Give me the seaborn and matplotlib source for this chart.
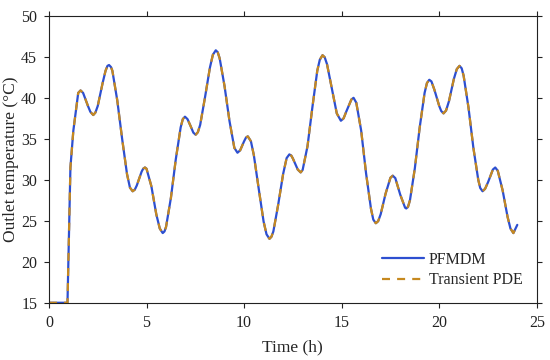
import matplotlib
matplotlib.use("Agg")
import matplotlib.pyplot as plt
import seaborn as sns
import pandas as pd

# outlet temperature, both models overlap
time_h = [0, 0.25, 0.5, 0.75, 0.95, 1.0, 1.1, 1.25, 1.5, 1.62, 1.75, 2.0, 2.12,
          2.27, 2.38, 2.5, 2.75, 2.9, 3.0, 3.08, 3.18, 3.25, 3.5, 3.75, 4.0,
          4.15, 4.29, 4.4, 4.5, 4.75, 4.83, 4.92, 5.0, 5.25, 5.5, 5.68, 5.83,
          5.92, 6.0, 6.25, 6.5, 6.75, 6.86, 6.97, 7.1, 7.25, 7.4, 7.52, 7.63,
          7.75, 8.0, 8.25, 8.4, 8.55, 8.65, 8.75, 9.0, 9.25, 9.5, 9.66, 9.8,
          10.0, 10.1, 10.19, 10.35, 10.5, 10.75, 11.0, 11.15, 11.3, 11.4, 11.5,
          11.75, 12.0, 12.18, 12.32, 12.42, 12.5, 12.75, 12.9, 13.0, 13.25,
          13.5, 13.75, 13.88, 14.02, 14.13, 14.25, 14.5, 14.75, 14.96, 15.1,
          15.25, 15.5, 15.61, 15.75, 16.0, 16.25, 16.5, 16.62, 16.75, 16.87,
          17.0, 17.25, 17.5, 17.62, 17.75, 18.0, 18.25, 18.31, 18.4, 18.5,
          18.75, 19.0, 19.25, 19.37, 19.49, 19.6, 19.75, 20.0, 20.1, 20.22,
          20.35, 20.5, 20.75, 20.9, 21.04, 21.15, 21.25, 21.5, 21.75, 22.0,
          22.1, 22.22, 22.35, 22.5, 22.75, 22.87, 23.0, 23.25, 23.5, 23.65,
          23.8, 24.0]
temp_c = [15, 15, 15, 15, 15, 20.5, 31.5, 36.0, 40.6, 40.9, 40.6, 39.0, 38.3,
          37.9, 38.2, 39.0, 41.8, 43.3, 43.9, 44.0, 43.75, 43.3, 39.7, 35.0, 30.7,
          29.05, 28.6, 28.8, 29.3, 31.0, 31.35, 31.5, 31.35, 29.2, 25.8, 24.05, 23.5,
          23.7, 24.25, 27.8, 32.5, 36.4, 37.4, 37.7, 37.4, 36.6, 35.75, 35.5, 35.8,
          36.7, 40.1, 43.7, 45.25, 45.8, 45.55, 44.8, 41.4, 37.2, 33.9, 33.3, 33.6,
          34.7, 35.16, 35.3, 34.7, 33.0, 28.9, 24.9, 23.35, 22.8, 23.05, 23.7,
          27.0, 30.7, 32.65, 33.1, 32.95, 32.6, 31.25, 30.9, 31.2, 34.1,
          38.85, 43.3, 44.65, 45.2, 44.95, 44.1, 41.1, 38.1, 37.2, 37.5,
          38.4, 39.8, 40.0, 39.4, 36.0, 30.8, 26.5, 25.15, 24.7, 24.95,
          25.8, 28.3, 30.25, 30.5, 30.2, 28.2, 26.6, 26.5, 26.7, 27.5,
          31.4, 36.4, 40.6, 41.8, 42.2, 42.0, 41.0, 39.0, 38.4, 38.1,
          38.45, 39.6, 42.3, 43.5, 43.9, 43.6, 42.7, 38.8, 33.9, 30.0,
          29.0, 28.6, 28.9, 29.7, 31.25, 31.5, 31.1, 28.7, 25.5, 24.05,
          23.5, 24.5]

df = pd.DataFrame({"Time": time_h, "Temp": temp_c})

sns.set_style("white")
plt.rcParams["font.family"] = ["Liberation Serif", "DejaVu Serif"]

fig = plt.figure(figsize=(5.5, 3.6), dpi=100)
ax = fig.add_axes([0.089, 0.159, 0.887, 0.797])

sns.lineplot(data=df, x="Time", y="Temp", ax=ax, color="#2d4fd0",
             linewidth=1.6, label="PFMDM")
sns.lineplot(data=df, x="Time", y="Temp", ax=ax, color="#c6891f",
             linewidth=1.6, linestyle=(0, (3.6, 3.2)), label="Transient PDE")

ax.set_xlim(0, 25)
ax.set_ylim(15, 50)
ax.set_xticks(range(0, 26, 5))
ax.set_yticks(range(15, 51, 5))
ax.set_xlabel("Time (h)", fontsize=12.5, labelpad=6)
ax.set_ylabel("Outlet temperature (\u00b0C)", fontsize=12.5, labelpad=1.5)
ax.tick_params(direction="out", length=3.5, width=0.8, labelsize=11.5, pad=5,
               bottom=True, left=True, top=True, right=True, colors="#222222")
for s in ax.spines.values():
    s.set_color("#222222")
    s.set_linewidth(0.8)

ax.legend(loc="lower right", frameon=False, fontsize=11.5, handlelength=2.6,
          handletextpad=0.3, borderaxespad=0.5, labelspacing=0.3)

fig.savefig("out.png", dpi=100)
